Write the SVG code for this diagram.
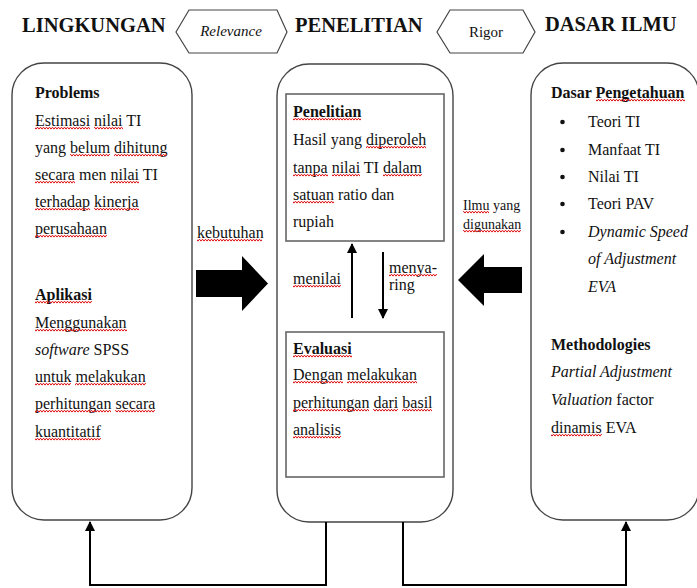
<svg xmlns="http://www.w3.org/2000/svg" width="697" height="588" viewBox="0 0 697 588">
<style>
text{font-family:"Liberation Serif","Times New Roman",serif;fill:#111}
.t{font-size:16px}
.h{font-size:20.5px;font-weight:bold}
.b{font-weight:bold}
.i{font-style:italic}
.sm{font-size:14px}
.box{fill:#fff;stroke:#444;stroke-width:1.4}
.inner{fill:#fff;stroke:#666;stroke-width:1.6}
.hex{fill:#fff;stroke:#444;stroke-width:1.2}
.con{fill:none;stroke:#000;stroke-width:2}
.blk{fill:#000}
.sq rect{fill:url(#wave);height:4px}
</style>
<defs>
<marker id="ah" viewBox="0 0 10 10" refX="9" refY="5" markerWidth="5" markerHeight="5" orient="auto" markerUnits="strokeWidth">
<path d="M0,0 L10,5 L0,10 z" fill="#000"/>
</marker>
<pattern id="wave" patternUnits="userSpaceOnUse" x="0" y="0" width="3" height="4">
<path d="M0,3.3 L1.5,1.1 L3,3.3" fill="none" stroke="#e01818" stroke-width="1"/>
</pattern>
</defs>
<rect width="697" height="588" fill="#fff"/>

<g id="titles">
<text class="h" x="22" y="32">LINGKUNGAN</text>
<text class="h" x="295" y="32">PENELITIAN</text>
<text class="h" x="545" y="31">DASAR ILMU</text>
</g>
<g id="relevance">
<polygon class="hex" points="176,32 189,10 277,10 287,32 277,53 189,53"/>
<text class="i" x="231" y="36" font-size="15" text-anchor="middle">Relevance</text>
</g>
<g id="rigor">
<polygon class="hex" points="437,32 450,10 523,10 535,32 523,53 450,53"/>
<text x="486" y="37" font-size="15" text-anchor="middle">Rigor</text>
</g>

<g id="lingkungan">
<rect class="box" x="12" y="63" width="180" height="457" rx="32"/>
<text class="t b" x="35" y="98">Problems</text>
<text class="t" x="35" y="126">Estimasi nilai TI</text>
<text class="t" x="35" y="153">yang belum dihitung</text>
<text class="t" x="35" y="180">secara men nilai TI</text>
<text class="t" x="35" y="207">terhadap kinerja</text>
<text class="t" x="35" y="234">perusahaan</text>
<text class="t b" x="35" y="300">Aplikasi</text>
<text class="t" x="35" y="328">Menggunakan</text>
<text class="t" x="35" y="355"><tspan class="i">software</tspan> SPSS</text>
<text class="t" x="35" y="382">untuk melakukan</text>
<text class="t" x="35" y="409">perhitungan secara</text>
<text class="t" x="35" y="437">kuantitatif</text>
</g>

<g id="penelitian">
<rect class="box" x="277" y="64" width="176" height="458" rx="32"/>
<g id="penelitian-box">
<rect class="inner" x="286" y="94" width="158" height="147"/>
<text class="t b" x="293" y="117">Penelitian</text>
<text class="t" x="293" y="145">Hasil yang diperoleh</text>
<text class="t" x="293" y="173">tanpa nilai TI dalam</text>
<text class="t" x="293" y="200">satuan ratio dan</text>
<text class="t" x="293" y="227">rupiah</text>
</g>
<g id="evaluasi-box">
<rect class="inner" x="286" y="332" width="158" height="145"/>
<text class="t b" x="293" y="354">Evaluasi</text>
<text class="t" x="293" y="380">Dengan melakukan</text>
<text class="t" x="293" y="408">perhitungan dari basil</text>
<text class="t" x="293" y="435">analisis</text>
</g>
<text class="t" x="293" y="284">menilai</text>
<text class="t" x="389" y="273">menya-</text>
<text class="t" x="389" y="290">ring</text>
</g>

<g id="dasar-ilmu">
<rect class="box" x="531" y="63" width="168" height="457" rx="32"/>
<text class="t b" x="551" y="98">Dasar Pengetahuan</text>
<circle cx="562.5" cy="122" r="2.3" fill="#111"/>
<circle cx="562.5" cy="150" r="2.3" fill="#111"/>
<circle cx="562.5" cy="177" r="2.3" fill="#111"/>
<circle cx="562.5" cy="204" r="2.3" fill="#111"/>
<circle cx="562.5" cy="232" r="2.3" fill="#111"/>
<text class="t" x="588" y="127">Teori TI</text>
<text class="t" x="588" y="155">Manfaat TI</text>
<text class="t" x="588" y="182">Nilai TI</text>
<text class="t" x="588" y="209">Teori PAV</text>
<text class="t i" x="588" y="237">Dynamic Speed</text>
<text class="t i" x="588" y="264">of Adjustment</text>
<text class="t i" x="588" y="292">EVA</text>
<text class="t b" x="551" y="350">Methodologies</text>
<text class="t i" x="551" y="377">Partial Adjustment</text>
<text class="t" x="551" y="405"><tspan class="i">Valuation</tspan> factor</text>
<text class="t" x="551" y="433">dinamis EVA</text>
</g>

<g id="connectors">
<text class="t" x="197" y="238" font-size="15.5">kebutuhan</text>
<polygon class="blk" points="196,270 242,270 242,256 268,283.5 242,311 242,297 196,297"/>
<text class="sm" x="463" y="210">Ilmu yang</text>
<text class="sm" x="463" y="229">digunakan</text>
<polygon class="blk" points="522,267 484,267 484,254 458,280 484,306 484,293 522,293"/>
<line class="con" x1="352" y1="318" x2="352" y2="244" marker-end="url(#ah)"/>
<line class="con" x1="383" y1="252" x2="383" y2="318" marker-end="url(#ah)"/>
<path class="con" d="M326,522 V585 H90 V522" marker-end="url(#ah)"/>
<path class="con" d="M403,522 V585 H626 V522" marker-end="url(#ah)"/>
</g>

<g id="spellcheck" class="sq">
<rect transform="translate(0,126)" x="35" width="55"/>
<rect transform="translate(0,126)" x="94" width="29"/>
<rect transform="translate(0,153)" x="70" width="40"/>
<rect transform="translate(0,153)" x="114" width="53"/>
<rect transform="translate(0,180)" x="35" width="40"/>
<rect transform="translate(0,180)" x="110" width="29"/>
<rect transform="translate(0,207)" x="35" width="55"/>
<rect transform="translate(0,207)" x="94" width="45"/>
<rect transform="translate(0,234)" x="35" width="72"/>
<rect transform="translate(0,300)" x="35" width="57"/>
<rect transform="translate(0,328)" x="35" width="92"/>
<rect transform="translate(0,382)" x="35" width="36"/>
<rect transform="translate(0,382)" x="75" width="71"/>
<rect transform="translate(0,409)" x="35" width="76"/>
<rect transform="translate(0,409)" x="115" width="40"/>
<rect transform="translate(0,437)" x="35" width="66"/>
<rect transform="translate(0,238)" x="197" width="65"/>
<rect transform="translate(0,117)" x="293" width="68"/>
<rect transform="translate(0,145)" x="366" width="60"/>
<rect transform="translate(0,173)" x="293" width="35"/>
<rect transform="translate(0,173)" x="332" width="28"/>
<rect transform="translate(0,173)" x="383" width="39"/>
<rect transform="translate(0,200)" x="293" width="41"/>
<rect transform="translate(0,284)" x="293" width="48"/>
<rect transform="translate(0,273)" x="389" width="48"/>
<rect transform="translate(0,354)" x="293" width="59"/>
<rect transform="translate(0,380)" x="293" width="50"/>
<rect transform="translate(0,380)" x="347" width="70"/>
<rect transform="translate(0,408)" x="293" width="76"/>
<rect transform="translate(0,408)" x="373" width="25"/>
<rect transform="translate(0,408)" x="402" width="30"/>
<rect transform="translate(0,435)" x="293" width="48"/>
<rect transform="translate(0,98)" x="596" width="89"/>
<rect transform="translate(0,210)" x="463" width="26"/>
<rect transform="translate(0,229)" x="463" width="58"/>
<rect transform="translate(0,433)" x="551" width="51"/>
</g>
</svg>
